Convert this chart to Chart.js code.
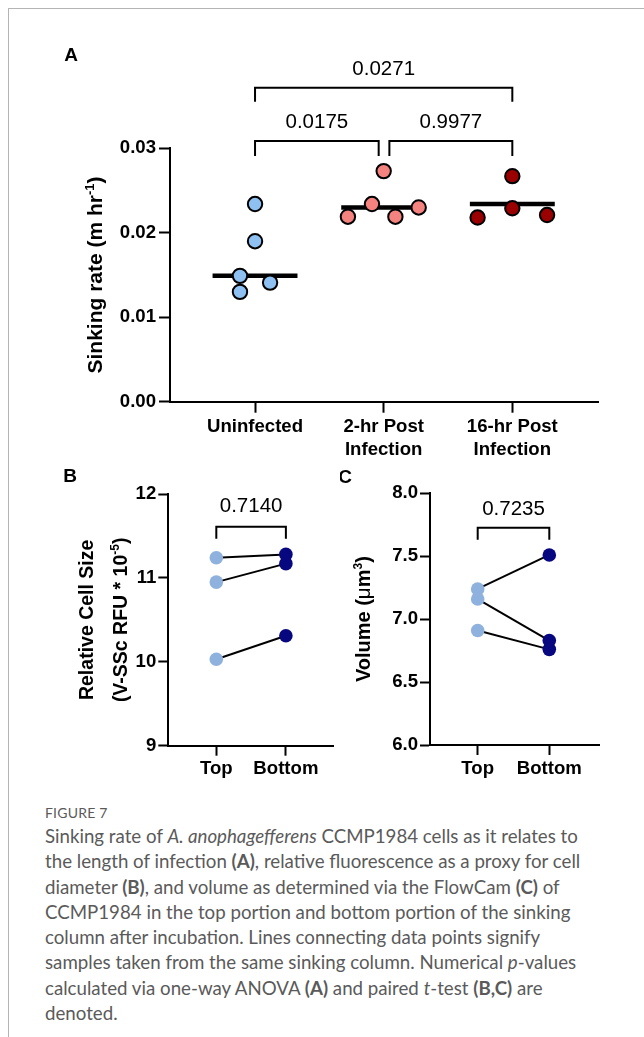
<!DOCTYPE html>
<html>
<head>
<meta charset="utf-8">
<script src="https://cdn.jsdelivr.net/npm/chart.js@4.4.0/dist/chart.umd.min.js"></script>
<style>
  html, body { margin: 0; padding: 0; background: #fff; }
  body { width: 644px; height: 1037px; position: relative; overflow: hidden; }
  .frame { position: absolute; left: 8px; top: 8px; width: 700px; height: 1100px;
           border-left: 1.5px solid #b4b4b4; border-top: 1.5px solid #b4b4b4; }
  canvas { position: absolute; }
  #caption { position: absolute; left: 45px; top: 802px; color: #5a5a5a;
             font-family: Lato, 'Open Sans', sans-serif; }
  #caption .head { font-size: 14px; line-height: 22px; letter-spacing: 0.2px; }
  #caption .body { font-size: 18.7px; line-height: 25.3px; white-space: nowrap; }
  #caption b { font-weight: 700; }
</style>
</head>
<body>
<div class="frame"></div>
<canvas id="panelA" width="644" height="462" style="left:0;top:0"></canvas>
<canvas id="panelB" width="340" height="330" style="left:0;top:460px"></canvas>
<canvas id="panelC" width="304" height="330" style="left:340px;top:460px"></canvas>
<div id="caption">
  <div class="head">FIGURE 7</div>
  <div class="body">Sinking rate of <i>A. anophagefferens</i> CCMP1984 cells as it relates to<br>the length of infection <b>(A)</b>, relative fluorescence as a proxy for cell<br>diameter <b>(B)</b>, and volume as determined via the FlowCam <b>(C)</b> of<br>CCMP1984 in the top portion and bottom portion of the sinking<br>column after incubation. Lines connecting data points signify<br>samples taken from the same sinking column. Numerical <i>p</i>-values<br>calculated via one-way ANOVA <b>(A)</b> and paired <i>t</i>-test <b>(B,C)</b> are<br>denoted.</div>
</div>
<script>
// ---- Panel A: sinking rate (m hr^-1) by infection stage ----
const categoriesA = [['Uninfected'], ['2-hr Post', 'Infection'], ['16-hr Post', 'Infection']];
const uninfected = [0.0234, 0.0190, 0.0149, 0.0130, 0.0141];
const postInfection2hr = [0.0273, 0.0234, 0.0219, 0.0219, 0.0230];
const postInfection16hr = [0.0267, 0.0229, 0.0218, 0.0221];
const centerLinesA = [0.0149, 0.0230, 0.0234];
const ticksA = [0, 0.01, 0.02, 0.03];
const pValuesA = { uninf16hr: '0.0271', uninf2hr: '0.0175', hr2hr16: '0.9977' };

// ---- Panel B: relative cell size, paired top/bottom samples ----
const positionsBC = ['Top', 'Bottom'];
const cellSizeTop = [11.24, 10.95, 10.03];
const cellSizeBottom = [11.28, 11.17, 10.31];
const ticksB = [9, 10, 11, 12];
const pValueB = '0.7140';

// ---- Panel C: volume (um^3), paired top/bottom samples ----
const volumeTop = [7.24, 7.16, 6.91];
const volumeBottom = [7.51, 6.83, 6.76];
const ticksC = [6.0, 6.5, 7.0, 7.5, 8.0];
const pValueC = '0.7235';

// ---- shared styling ----
const FONT = "'Liberation Sans', Arial, Helvetica, sans-serif";
Chart.defaults.font.family = FONT;
Chart.defaults.color = '#000';
Chart.defaults.animation = false;

const COLORS_A = ['#8ec1f2', '#f4827f', '#9a0000'];
const TOP_COLOR = '#8fb1dd';
const BOTTOM_COLOR = '#07077f';
const TICK_FONT = { size: 18.6, weight: 'bold', lineHeight: 1.2 };
// horizontal spread of overlapping points within a column
const JITTER_A = [[0, 0, -0.117, -0.117, 0.117], [0, -0.091, -0.278, 0.091, 0.272], [0, 0, -0.27, 0.27]];

function yAxis(min, max, ticks, fmt, width, tickLen, pad) {
  return {
    type: 'linear', position: 'left', min, max,
    afterBuildTicks: s => { s.ticks = ticks.map(v => ({ value: v })); },
    ticks: { callback: fmt, font: TICK_FONT, color: '#000', padding: pad },
    grid: { drawOnChartArea: false, drawTicks: true, tickLength: tickLen, tickWidth: 2, tickColor: '#000' },
    border: { display: true, color: '#000', width: 2 },
    afterFit: s => { s.width = width; }
  };
}
function xAxis(min, max, labels, height, tickLen, pad) {
  return {
    type: 'linear', position: 'bottom', min, max,
    afterBuildTicks: s => { s.ticks = labels.map((l, i) => ({ value: i })); },
    ticks: { callback: (v, i) => labels[i], font: TICK_FONT,
             color: '#000', padding: pad, maxRotation: 0, autoSkip: false },
    grid: { drawOnChartArea: false, drawTicks: true, tickLength: tickLen, tickWidth: 2, tickColor: '#000' },
    border: { display: true, color: '#000', width: 2 },
    afterFit: s => { s.height = height; }
  };
}

function bracket(ctx, x1, x2, yBar, yLeg) {
  ctx.save();
  ctx.strokeStyle = '#000'; ctx.lineWidth = 2; ctx.lineJoin = 'miter'; ctx.lineCap = 'butt';
  ctx.beginPath();
  ctx.moveTo(x1, yLeg); ctx.lineTo(x1, yBar); ctx.lineTo(x2, yBar); ctx.lineTo(x2, yLeg);
  ctx.stroke();
  ctx.restore();
}
function label(ctx, text, x, y, font, align) {
  ctx.save();
  ctx.fillStyle = '#000'; ctx.font = font; ctx.textAlign = align || 'center'; ctx.textBaseline = 'middle';
  ctx.fillText(text, x, y);
  ctx.restore();
}
// rotated (reading upward) title built from runs; each run: [text, font, raise]
function rotatedTitle(ctx, baseX, centerY, runs) {
  ctx.save();
  ctx.fillStyle = '#000'; ctx.textBaseline = 'alphabetic'; ctx.textAlign = 'left';
  let total = 0;
  runs.forEach(r => { ctx.font = r[1]; total += ctx.measureText(r[0]).width; });
  ctx.translate(baseX, centerY);
  ctx.rotate(-Math.PI / 2);
  let x = -total / 2;
  runs.forEach(r => { ctx.font = r[1]; ctx.fillText(r[0], x, -(r[2] || 0)); x += ctx.measureText(r[0]).width; });
  ctx.restore();
}

const B20 = 'bold 20px ' + FONT, B21 = 'bold 21px ' + FONT, B19 = 'bold 19.5px ' + FONT;
const N20 = '20.5px ' + FONT;

// ---------------- Panel A ----------------
const seriesA = [uninfected, postInfection2hr, postInfection16hr];
new Chart(document.getElementById('panelA'), {
  type: 'scatter',
  data: {
    datasets: seriesA.map((vals, c) => ({
      data: vals.map((v, k) => ({ x: c + JITTER_A[c][k], y: v })),
      backgroundColor: COLORS_A[c], borderColor: '#000', borderWidth: 2,
      pointRadius: 7.2, pointHoverRadius: 7.2, clip: false
    }))
  },
  options: {
    responsive: false, events: [],
    layout: { padding: { top: 148.3, right: 46, bottom: 0, left: 0 } },
    plugins: { legend: { display: false }, tooltip: { enabled: false } },
    scales: {
      x: xAxis(-0.661, 2.666, categoriesA, 60.3, 11, 3.5),
      y: yAxis(0, 0.03, ticksA, v => v.toFixed(2), 170, 11, 3)
    }
  },
  plugins: [{
    id: 'centerLinesA',
    beforeDatasetsDraw(chart) {
      const { ctx, scales: { x, y } } = chart;
      ctx.save(); ctx.strokeStyle = '#000'; ctx.lineWidth = 4.5;
      centerLinesA.forEach((v, i) => {
        const py = y.getPixelForValue(v);
        ctx.beginPath(); ctx.moveTo(x.getPixelForValue(i - 0.33), py); ctx.lineTo(x.getPixelForValue(i + 0.33), py); ctx.stroke();
      });
      ctx.restore();
    },
    afterDraw(chart) {
      const { ctx, chartArea: a, scales: { x } } = chart;
      const x0 = x.getPixelForValue(0), x1 = x.getPixelForValue(1), x2 = x.getPixelForValue(2);
      bracket(ctx, x0, x2, a.top - 60.6, a.top - 46.6);
      bracket(ctx, x0, x1 - 5, a.top - 7.3, a.top + 7.7);
      bracket(ctx, x1 + 5.7, x2, a.top - 7.3, a.top + 7.7);
      label(ctx, pValuesA.uninf16hr, (x0 + x2) / 2, a.top - 79, N20);
      label(ctx, pValuesA.uninf2hr, (x0 + x1 - 5) / 2, a.top - 25.6, N20);
      label(ctx, pValuesA.hr2hr16, (x1 + 5.7 + x2) / 2, a.top - 25.6, N20);
      label(ctx, 'A', 71, 56, 'bold 19px ' + FONT);
      rotatedTitle(ctx, 102, (a.top + a.bottom) / 2,
        [['Sinking rate (m hr', B21], ['-1', 'bold 13px ' + FONT, 8], [')', B21]]);
    }
  }]
});

// ---------------- Panels B and C ----------------
function pairedPanel(canvasId, topVals, bottomVals, yMin, yMax, yTicks, fmt, geom, pValue, letter, drawTitle) {
  new Chart(document.getElementById(canvasId), {
    type: 'scatter',
    data: {
      datasets: topVals.map((t, i) => ({
        data: [{ x: 0, y: t }, { x: 1, y: bottomVals[i] }],
        showLine: true, borderColor: '#000', borderWidth: 2,
        pointBackgroundColor: [TOP_COLOR, BOTTOM_COLOR], pointBorderColor: [TOP_COLOR, BOTTOM_COLOR],
        pointBorderWidth: 0, pointRadius: 6.8, pointHoverRadius: 6.8, clip: false
      }))
    },
    options: {
      responsive: false, events: [],
      layout: { padding: { top: geom.top, right: geom.right, bottom: 0, left: 0 } },
      plugins: { legend: { display: false }, tooltip: { enabled: false } },
      scales: {
        x: xAxis(geom.xMin, geom.xMax, positionsBC, geom.xH, 10, 2.5),
        y: yAxis(yMin, yMax, yTicks, fmt, geom.yW, 10, 2)
      }
    },
    plugins: [{
      id: 'pairAnnotations',
      afterDraw(chart) {
        const { ctx, chartArea: a, scales: { x } } = chart;
        const x0 = x.getPixelForValue(0), x1 = x.getPixelForValue(1);
        bracket(ctx, x0, x1, a.top + geom.barDy, a.top + geom.barDy + 12);
        label(ctx, pValue, (x0 + x1) / 2, a.top + geom.labelDy, N20);
        label(ctx, letter[0], letter[1], letter[2], 'bold 19px ' + FONT);
        drawTitle(ctx, a);
      }
    }]
  });
}

pairedPanel('panelB', cellSizeTop, cellSizeBottom, 9, 12, ticksB, v => String(v),
  { top: 34, right: 2, xH: 44.3, yW: 168.3, xMin: -0.69, xMax: 1.68, barDy: 32.7, labelDy: 12 },
  pValueB, ['B', 70, 17], (ctx, a) => {
    const cy = (a.top + a.bottom) / 2;
    rotatedTitle(ctx, 93, cy, [['Relative Cell Size', B19]]);
    rotatedTitle(ctx, 127, cy, [['(V-SSc RFU * 10', B19], ['-5', 'bold 12px ' + FONT, 8], [')', B19]]);
  });

pairedPanel('panelC', volumeTop, volumeBottom, 6, 8, ticksC, v => v.toFixed(1),
  { top: 33.3, right: 45, xH: 45, yW: 90, xMin: -0.666, xMax: 1.694, barDy: 34.4, labelDy: 16 },
  pValueC, ['C', 5, 18], (ctx, a) => {
    rotatedTitle(ctx, 30, (a.top + a.bottom) / 2,
      [['Volume (', B20], ['\u03bc', N20], ['m', B20], ['3', 'bold 12px ' + FONT, 8], [')', B20]]);
  });
</script>
</body>
</html>
